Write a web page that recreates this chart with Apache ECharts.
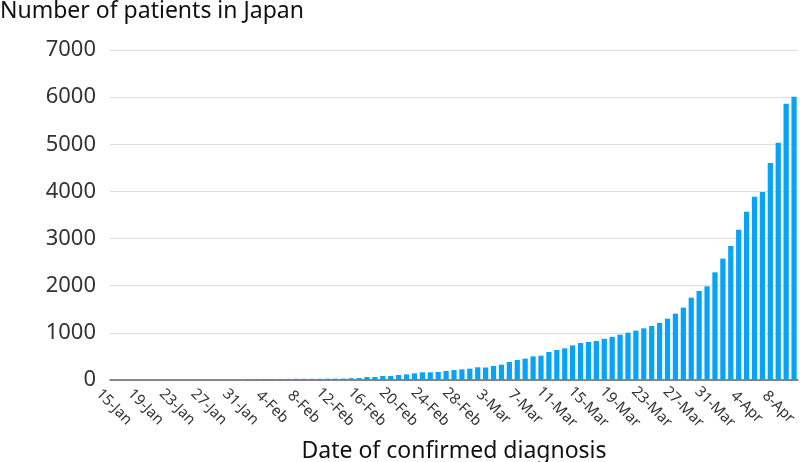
<!DOCTYPE html>
<html>
<head>
<meta charset="utf-8">
<script src="https://cdn.jsdelivr.net/npm/echarts@6/dist/echarts.min.js"></script>
<style>
  html, body { margin: 0; padding: 0; background: #fff; }
  #chart { width: 800px; height: 462px; }
</style>
</head>
<body>
<div id="chart"></div>
<script>
// dates 15-Jan .. 10-Apr (2020), one bar per day
const months = [['Jan', 15, 31], ['Feb', 1, 29], ['Mar', 1, 31], ['Apr', 1, 10]]
const dates = []
months.forEach(function (m) {
  for (let d = m[1]; d <= m[2]; d++) dates.push(d + '-' + m[0])
})

// cumulative patients
const janPatients = [0, 0, 0, 0, 0, 0, 0, 0, 0, 0, 0, 0, 0, 0, 0, 0, 0]
const febPatients = [17, 20, 20, 20, 22, 23, 25, 25, 25, 26, 28, 29, 30, 38,
  42, 64, 64, 85, 85, 106, 120, 141, 163, 163, 170, 191, 212, 226, 240]
const marPatients = [269, 265, 297, 325, 382, 424, 453, 502, 516, 594, 636,
  672, 735, 785, 806, 827, 874, 915, 961, 1004, 1047, 1096, 1145, 1209,
  1301, 1407, 1535, 1747, 1888, 1987, 2284]
const aprPatients = [2574, 2843, 3189, 3571, 3889, 3988, 4603, 5035, 5862, 6010]
const patients = janPatients.concat(febPatients, marPatients, aprPatients)

const yTicks = [0, 1000, 2000, 3000, 4000, 5000, 6000, 7000]

const font = 'Noto Sans'
const chart = echarts.init(document.getElementById('chart'))
chart.setOption({
  animation: false,
  title: {
    text: 'Number of patients in Japan',
    left: 0,
    top: 0,
    padding: 0,
    textStyle: { fontFamily: font, fontSize: 23, fontWeight: 'normal', color: '#111' }
  },
  grid: { left: 110, right: 2, top: 50, bottom: 82, outerBoundsMode: 'none' },
  xAxis: {
    type: 'category',
    data: dates,
    name: 'Date of confirmed diagnosis',
    nameLocation: 'middle',
    nameGap: 60,
    nameMoveOverlap: false,
    nameTextStyle: { fontFamily: font, fontSize: 23, color: '#111', verticalAlign: 'top' },
    axisLine: { lineStyle: { color: '#666', width: 1.5 } },
    axisTick: { show: false },
    axisLabel: {
      interval: 3,
      rotate: -45,
      align: 'center',
      verticalAlign: 'middle',
      margin: 27,
      fontFamily: font,
      fontSize: 15,
      color: '#333'
    }
  },
  yAxis: {
    type: 'value',
    min: yTicks[0],
    max: yTicks[yTicks.length - 1],
    interval: 1000,
    axisLine: { show: false },
    axisTick: { show: false },
    axisLabel: {
      margin: 14,
      fontFamily: font,
      fontSize: 22,
      color: '#333',
      formatter: function (v) { return String(v) }
    },
    splitLine: { lineStyle: { color: '#ddd', width: 1.2 } }
  },
  series: [{
    type: 'bar',
    data: patients,
    barCategoryGap: '34%',
    itemStyle: { color: '#06a3f8' }
  }]
})
</script>
</body>
</html>
